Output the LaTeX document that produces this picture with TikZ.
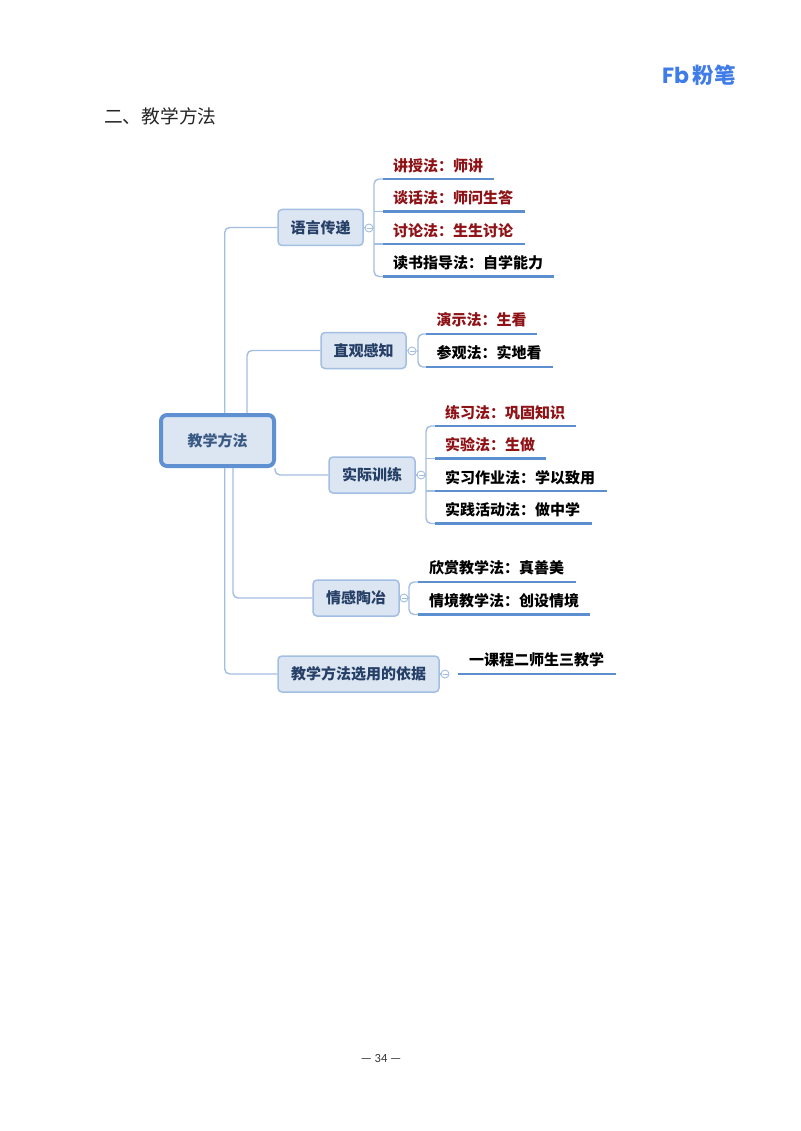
\documentclass[tikz,border=0pt]{standalone}
\usepackage{fontspec}
\setmainfont{Noto Sans CJK SC}
\newfontfamily\latinf{Carlito}
\newfontfamily\logof{Poppins}
\newcommand\lowertext[1]{\raisebox{-1.2pt}{#1}}
\definecolor{boxfill}{HTML}{DCE6F2}
\definecolor{boxline}{HTML}{A3BEE3}
\definecolor{rootline}{HTML}{5F91D2}
\definecolor{conn}{HTML}{A3BEE3}
\definecolor{uline}{HTML}{5B8FD0}
\definecolor{redtxt}{HTML}{8E1216}
\definecolor{bluetxt}{HTML}{263F66}
\definecolor{roottxt}{HTML}{3A5A85}
\definecolor{logoblue}{HTML}{3F7CE8}
\tikzset{
  rootbox/.style={draw=rootline,fill=boxfill,line width=4pt,rounded corners=6pt,text=roottxt,font=\fontsize{15}{18}\selectfont\bfseries,inner sep=0pt},
  branchbox/.style={draw=boxline,fill=boxfill,line width=1.5pt,rounded corners=4pt,text=bluetxt,font=\fontsize{15}{18}\selectfont\bfseries,inner sep=0pt},
  leafred/.style={anchor=west,inner sep=0pt,text=redtxt,font=\fontsize{15}{18}\selectfont\bfseries},
  leafblack/.style={anchor=west,inner sep=0pt,text=black,font=\fontsize{15}{18}\selectfont\bfseries},
  wire/.style={draw=conn,line width=1.4pt,rounded corners=5pt},
  underl/.style={draw=uline,line width=2.5pt},
  toggle/.style={circle,draw=conn,fill=white,line width=.9pt,minimum size=8pt,inner sep=0pt,
    path picture={\draw[conn,line width=.6pt] ([xshift=1.5pt]path picture bounding box.west) -- ([xshift=-1.5pt]path picture bounding box.east);}},
}
\begin{document}
\begin{tikzpicture}[x=1pt,y=-1pt]
\useasboundingbox (0,0) rectangle (800,1131);
\fill[white] (0,0) rectangle (800,1131);

% page furniture
\node[anchor=west,inner sep=0pt,font=\fontsize{18.7}{22}\selectfont,text=black!85] (title) at (104,116) {二、教学方法};
\node[anchor=center,inner sep=0pt,font=\latinf\fontsize{12.5}{14}\selectfont,text=black!80] (page) at (381,1058.5) {— 34 —};
\node[anchor=west,inner sep=0pt,text=logoblue,font=\logof\fontsize{22}{22}\selectfont\bfseries] (logoa) at (662,75) {Fb};
\node[anchor=west,inner sep=0pt,text=logoblue,font=\fontsize{21.5}{22}\selectfont\bfseries] (logob) at (692.5,75) {粉笔};

% boxes
\node[rootbox,minimum width=113pt,minimum height=51pt] (root) at (217.5,440.5) {\lowertext{教学方法}};
\node[branchbox,minimum width=85pt,minimum height=36pt] (b1) at (320.5,227.5) {\lowertext{语言传递}};
\node[branchbox,minimum width=85pt,minimum height=36pt] (b2) at (363.5,350.5) {\lowertext{直观感知}};
\node[branchbox,minimum width=86pt,minimum height=36pt] (b3) at (372,475) {\lowertext{实际训练}};
\node[branchbox,minimum width=86pt,minimum height=36pt] (b4) at (356,598) {\lowertext{情感陶冶}};
\node[branchbox,minimum width=161pt,minimum height=36pt] (b5) at (358.5,674) {\lowertext{教学方法选用的依据}};

% root connectors
\coordinate (rx1) at (224.7,0);
\coordinate (rx2) at (247,0);
\coordinate (rx3) at (233,0);
\coordinate (rx4) at (275,0);
\draw[wire] (root.north -| rx1) |- (b1.west);
\draw[wire] (root.north -| rx2) |- (b2.west);
\draw[wire] (root.south -| rx4) |- (b3.west);
\draw[wire] (root.south -| rx3) |- (b4.west);
\draw[wire] (root.south -| rx1) |- (b5.west);

% toggles
\node[toggle] (c1) at (369,228) {};
\node[toggle] (c2) at (412,351) {};
\node[toggle] (c3) at (421,475) {};
\node[toggle] (c4) at (404,598) {};
\node[toggle] (c5) at (445,674) {};
\coordinate (br1) at (374,0);
\coordinate (br2) at (418,0);
\coordinate (br3) at (426,0);
\coordinate (br4) at (409,0);

% group 1
\node[leafred] (a1) at (393,166) {讲授法：师讲};
\node[leafred] (a2) at (393,198) {谈话法：师问生答};
\node[leafred] (a3) at (393,230.5) {讨论法：生生讨论};
\node[leafblack] (a4) at (393,263) {读书指导法：自学能力};
\coordinate (a1s) at (383,179); \coordinate (a1e) at (494,179);
\coordinate (a2s) at (383,211.5); \coordinate (a2e) at (525,211.5);
\coordinate (a3s) at (383,244); \coordinate (a3e) at (525,244);
\coordinate (a4s) at (383,276.5); \coordinate (a4e) at (554,276.5);
\draw[wire] (a1s) -- (br1 |- a1s) -- (br1 |- a4s) -- (a4s);
\draw[wire,rounded corners=0pt] (br1 |- a2s) -- (a2s) (br1 |- a3s) -- (a3s);
\draw[wire,rounded corners=0pt] (b1.east) -- (c1.west) (c1.east) -- (br1 |- c1);
\foreach \n in {a1,a2,a3,a4} \draw[underl] (\n s) -- (\n e);

% group 2
\node[leafred] (d1) at (436.5,320) {演示法：生看};
\node[leafblack] (d2) at (436.5,353) {参观法：实地看};
\coordinate (d1s) at (426,334); \coordinate (d1e) at (537,334);
\coordinate (d2s) at (426,367); \coordinate (d2e) at (553,367);
\draw[wire] (d1s) -- (br2 |- d1s) -- (br2 |- d2s) -- (d2s);
\draw[wire,rounded corners=0pt] (b2.east) -- (c2.west) (c2.east) -- (br2 |- c2);
\foreach \n in {d1,d2} \draw[underl] (\n s) -- (\n e);

% group 3
\node[leafred] (e1) at (445,413) {练习法：巩固知识};
\node[leafred] (e2) at (445,445) {实验法：生做};
\node[leafblack] (e3) at (445,478) {实习作业法：学以致用};
\node[leafblack] (e4) at (445,510) {实践活动法：做中学};
\coordinate (e1s) at (435,426); \coordinate (e1e) at (576,426);
\coordinate (e2s) at (435,458.5); \coordinate (e2e) at (546,458.5);
\coordinate (e3s) at (435,491); \coordinate (e3e) at (607,491);
\coordinate (e4s) at (435,523.5); \coordinate (e4e) at (592,523.5);
\draw[wire] (e1s) -- (br3 |- e1s) -- (br3 |- e4s) -- (e4s);
\draw[wire,rounded corners=0pt] (br3 |- e2s) -- (e2s) (br3 |- e3s) -- (e3s);
\draw[wire,rounded corners=0pt] (b3.east) -- (c3.west) (c3.east) -- (br3 |- c3);
\foreach \n in {e1,e2,e3,e4} \draw[underl] (\n s) -- (\n e);

% group 4
\node[leafblack] (f1) at (429,568) {欣赏教学法：真善美};
\node[leafblack] (f2) at (429,601) {情境教学法：创设情境};
\coordinate (f1s) at (418,582); \coordinate (f1e) at (576,582);
\coordinate (f2s) at (418,614.5); \coordinate (f2e) at (590,614.5);
\draw[wire] (f1s) -- (br4 |- f1s) -- (br4 |- f2s) -- (f2s);
\draw[wire,rounded corners=0pt] (b4.east) -- (c4.west) (c4.east) -- (br4 |- c4);
\foreach \n in {f1,f2} \draw[underl] (\n s) -- (\n e);

% group 5
\node[leafblack] (g1) at (469,660) {一课程二师生三教学};
\coordinate (g1s) at (458,674); \coordinate (g1e) at (616,674);
\draw[wire,rounded corners=0pt] (b5.east) -- (c5.west);
\draw[underl] (g1s) -- (g1e);
\end{tikzpicture}
\end{document}
